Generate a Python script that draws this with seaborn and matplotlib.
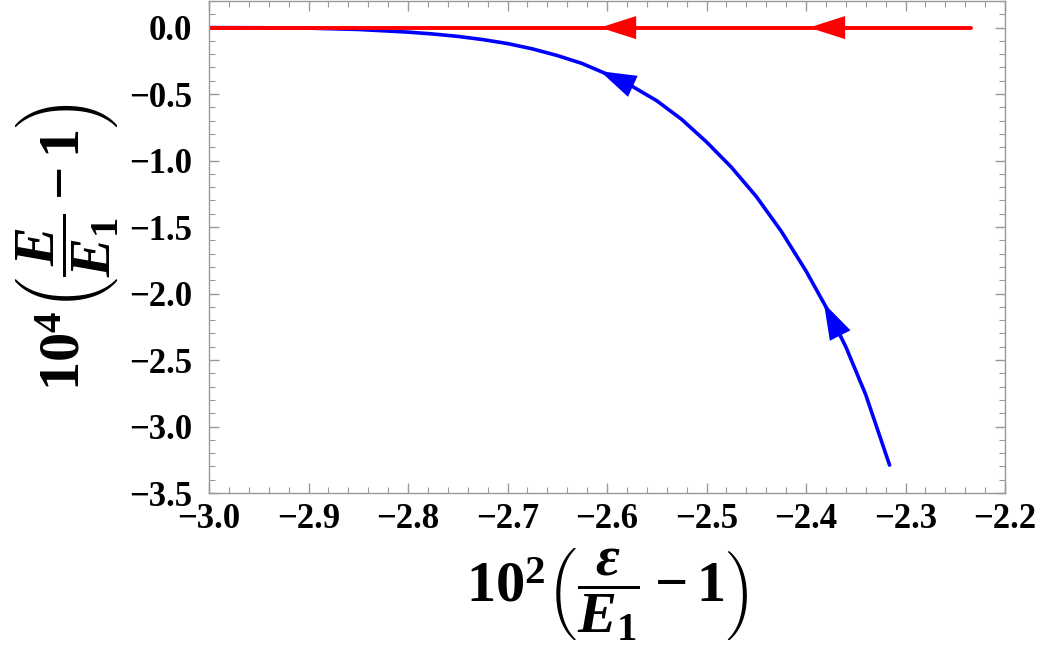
import numpy as np
import pandas as pd
import matplotlib
matplotlib.use("Agg")
import matplotlib.pyplot as plt
from matplotlib.ticker import MultipleLocator
import seaborn as sns

# values
red_x = [-3.0, -2.234]
red_y = [0.0, 0.0]
red_arrow_x = [-2.607, -2.397]

blue_x = [-3.0, -2.95, -2.9, -2.85, -2.8, -2.775, -2.75, -2.725, -2.7, -2.675,
          -2.65, -2.625, -2.6, -2.575, -2.55, -2.525, -2.5, -2.475, -2.45, -2.425,
          -2.4, -2.38, -2.36, -2.34, -2.316]
blue_y = [0.0, -0.001, -0.004, -0.014, -0.034, -0.048, -0.066, -0.09, -0.12, -0.16,
          -0.21, -0.27, -0.35, -0.44, -0.55, -0.69, -0.86, -1.05, -1.27, -1.53,
          -1.83, -2.10, -2.40, -2.76, -3.29]
blue_arrow_x = [-2.607, -2.382]

x_ticks = [-3.0, -2.9, -2.8, -2.7, -2.6, -2.5, -2.4, -2.3, -2.2]
y_ticks = [0.0, -0.5, -1.0, -1.5, -2.0, -2.5, -3.0, -3.5]

sns.set_style("ticks")
plt.rcParams['font.family'] = ['Liberation Serif', 'DejaVu Serif']
plt.rcParams['font.weight'] = 'bold'
plt.rcParams['text.color'] = 'black'
plt.rcParams['axes.labelcolor'] = 'black'
plt.rcParams['mathtext.fontset'] = 'custom'
plt.rcParams['mathtext.rm'] = 'Liberation Serif:bold'
plt.rcParams['mathtext.bf'] = 'Liberation Serif:bold'
plt.rcParams['mathtext.it'] = 'Liberation Serif:bold:italic'

red_df = pd.DataFrame({'x': red_x, 'y': red_y})
blue_df = pd.DataFrame({'x': blue_x, 'y': blue_y})

fig = plt.figure(figsize=(10.42, 6.69), dpi=100)
ax = fig.add_axes([0.2006, 0.263, 0.7639, 0.7355])

sns.lineplot(data=blue_df, x='x', y='y', color='#0000ff', lw=2.6, ax=ax,
             estimator=None, sort=False)
sns.lineplot(data=red_df, x='x', y='y', color='#ff0000', lw=2.8, ax=ax,
             estimator=None, sort=False)

head = '-|>,head_length=1.0,head_width=0.32'
for xa in red_arrow_x:
    ax.annotate('', xy=(xa, 0.0), xytext=(xa + 0.04, 0.0),
                arrowprops=dict(arrowstyle=head, color='#ff0000', lw=0,
                                mutation_scale=26, shrinkA=0, shrinkB=0))
for xa in blue_arrow_x:
    ya = np.interp(xa, blue_x, blue_y)
    xt = xa + 0.02
    yt = np.interp(xt, blue_x, blue_y)
    ax.annotate('', xy=(xa, ya), xytext=(xt, yt),
                arrowprops=dict(arrowstyle=head, color='#0000ff', lw=0,
                                mutation_scale=26, shrinkA=0, shrinkB=0))

ax.set_xlim(-3.0, -2.2)
ax.set_ylim(-3.5, 0.2)
ax.set_xticks(x_ticks)
ax.set_yticks(y_ticks)
ax.xaxis.set_minor_locator(MultipleLocator(0.02))
ax.yaxis.set_minor_locator(MultipleLocator(0.1))
ax.set_xticklabels([f"{v:.1f}".replace('-', '\u2212') for v in x_ticks])
ax.set_yticklabels([f"{v:.1f}".replace('-', '\u2212') for v in y_ticks])

for s in ax.spines.values():
    s.set_color('#999999')
    s.set_linewidth(1.0)
ax.tick_params(which='both', direction='in', top=True, right=True, color='#999999',
               labelsize=25, labelcolor='black')
ax.tick_params(axis='x', which='both', pad=7)
ax.tick_params(axis='y', which='both', pad=12)
ax.tick_params(which='major', length=7, width=1.0)
ax.tick_params(which='minor', length=4, width=0.8)
for lab in ax.get_xticklabels() + ax.get_yticklabels():
    lab.set_fontweight('bold')

ax.set_xlabel(r'$10^2\left(\dfrac{\varepsilon}{E_{\mathit{1}}}-1\right)$',
              fontsize=42, labelpad=8)
ax.set_ylabel(r'$10^4\left(\dfrac{E}{E_{\mathit{1}}}-1\right)$',
              fontsize=42, labelpad=6)

fig.savefig('out.png', dpi=100)
